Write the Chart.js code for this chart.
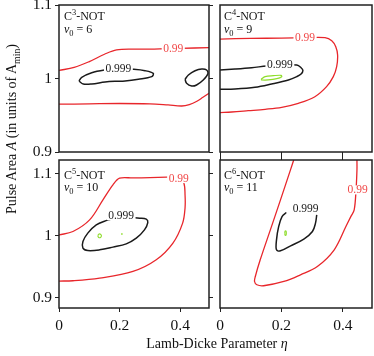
<!DOCTYPE html>
<html>
<head>
<meta charset="utf-8">
<script src="https://cdn.jsdelivr.net/npm/chart.js@4.4.1/dist/chart.umd.min.js"></script>
<style>
body{margin:0;background:#fff;width:374px;height:356px;position:relative;overflow:hidden;font-family:"Liberation Serif",serif;color:#111}
canvas{position:absolute;left:0;top:0}
.plab{position:absolute;font-size:12px;white-space:nowrap}
.plab sup,.plab sub{font-size:70%;line-height:0}
.title{position:absolute;font-size:14px;line-height:16px;height:16px;text-align:center;white-space:nowrap}
.title sub{font-size:70%;line-height:0}
</style>
</head>
<body>
<canvas id="c3" width="374" height="356"></canvas>
<canvas id="c4" width="374" height="356"></canvas>
<canvas id="c5" width="374" height="356"></canvas>
<canvas id="c6" width="374" height="356"></canvas>

<div class="plab" style="left:64px;top:9.9px;line-height:13.6px">C<sup>3</sup>-NOT<br><i>ν</i><sub>0</sub> = 6</div>
<div class="plab" style="left:224px;top:9.9px;line-height:13.6px">C<sup>4</sup>-NOT<br><i>ν</i><sub>0</sub> = 9</div>
<div class="plab" style="left:64px;top:170px;line-height:11.7px">C<sup>5</sup>-NOT<br><i>ν</i><sub>0</sub> = 10</div>
<div class="plab" style="left:224px;top:170px;line-height:11.7px">C<sup>6</sup>-NOT<br><i>ν</i><sub>0</sub> = 11</div>

<div class="title" style="left:-118px;top:121px;width:260px;transform:rotate(-90deg)">Pulse Area <i>A</i> (in units of A<sub>min</sub>)</div>
<div class="title" style="left:67px;top:335.6px;width:300px">Lamb-Dicke Parameter <i>η</i></div>

<script>
// axis ticks
var xTicks = [0, 0.2, 0.4];
var yTicks = [0.9, 1, 1.1];

// C3-NOT, v0 = 6 //////////////////////////////////////////////
var c3Red99Upper = [[0,1.011],[0.05,1.015],[0.1,1.023],[0.15,1.033],[0.19,1.039],[0.25,1.040],[0.3,1.040],[0.35,1.0405],[0.4,1.041],[0.495,1.042]];
var c3Red99Lower = [[0,0.9650],[0.1,0.9655],[0.2,0.9660],[0.3,0.9655],[0.36,0.9640],[0.405,0.9626],[0.43,0.9645],[0.455,0.9690],[0.475,0.9745],[0.495,0.980]];
var c3Blk999Left = [[0.066,0.9966],[0.075,1.0016],[0.108,1.0079],[0.152,1.0116],[0.196,1.0134],[0.245,1.0125],[0.284,1.0106],[0.311,1.0070],[0.306,1.0025],[0.262,0.9989],[0.218,0.9966],[0.185,0.9962],[0.152,0.9952],[0.108,0.9925],[0.080,0.9925],[0.066,0.9966]];
var c3Blk999Right = [[0.416,0.9989],[0.427,1.0048],[0.449,1.0106],[0.471,1.0129],[0.487,1.0116],[0.491,1.0061],[0.476,0.9980],[0.454,0.9912],[0.438,0.9898],[0.421,0.9935],[0.416,0.9989]];
var c3Lab99 = [0.377, 1.0405];
var c3Lab999 = [0.196, 1.0139];

// C4-NOT, v0 = 9 //////////////////////////////////////////////
var c4Red99 = [[0,1.0537],[0.1,1.0545],[0.2,1.055],[0.28,1.0555],[0.342,1.0555],[0.364,1.0514],[0.377,1.0433],[0.383,1.032],[0.380,1.0161],[0.369,1.0025],[0.347,0.9889],[0.309,0.9752],[0.255,0.9662],[0.201,0.9608],[0.147,0.9581],[0.092,0.9562],[0.038,0.9544],[0,0.9535]];
var c4Blk999 = [[0,1.0116],[0.049,1.0129],[0.103,1.0147],[0.152,1.0170],[0.2,1.0184],[0.250,1.0184],[0.264,1.0147],[0.270,1.0110],[0.264,1.0061],[0.250,1.0025],[0.223,0.9980],[0.168,0.9925],[0.114,0.9880],[0.049,0.9857],[0,0.9853]];
var c4Green = [[0.134,0.9989],[0.147,1.0025],[0.174,1.0038],[0.199,1.0043],[0.201,1.0025],[0.185,0.9998],[0.157,0.9980],[0.136,0.9980],[0.134,0.9989]];
var c4Lab99 = [0.277, 1.056];
var c4Lab999 = [0.195, 1.0193];

// C5-NOT, v0 = 10 /////////////////////////////////////////////
var c5Red99 = [[0,1.001],[0.046,1.0065],[0.101,1.0253],[0.145,1.0576],[0.178,1.0818],[0.200,1.0926],[0.244,1.093],[0.300,1.0936],[0.355,1.0942],[0.395,1.0945],[0.412,1.085],[0.416,1.065],[0.416,1.045],[0.408,1.020],[0.376,0.9877],[0.321,0.9608],[0.244,0.942],[0.134,0.9313],[0.046,0.927],[0,0.9265]];
var c5Blk999 = [[0.161,1.0253],[0.123,1.0173],[0.095,1.0039],[0.079,0.9903],[0.079,0.9797],[0.095,0.9758],[0.134,0.9769],[0.178,0.9813],[0.222,0.9866],[0.255,0.9958],[0.282,1.0092],[0.293,1.021],[0.288,1.0264],[0.266,1.028],[0.205,1.030],[0.161,1.0253]];
var c5Green1 = [[0.128,0.9995],[0.131,1.0022],[0.137,1.0022],[0.140,0.9995],[0.137,0.9968],[0.131,0.9968],[0.128,0.9995]];
var c5Green2 = [[0.205,1.0027],[0.210,1.0027]];
var c5Lab99 = [0.395, 1.092];
var c5Lab999 = [0.205, 1.0323];

// C6-NOT, v0 = 11 /////////////////////////////////////////////
var c6Red99 = [[0.240,1.122],[0.2295,1.106],[0.197,1.0576],[0.164,1.0092],[0.131,0.9608],[0.115,0.9339],[0.1125,0.9258],[0.120,0.9205],[0.142,0.9189],[0.208,0.9258],[0.262,0.9366],[0.317,0.950],[0.372,0.977],[0.410,1.0145],[0.426,1.0306],[0.437,1.0415],[0.443,1.0737],[0.446,1.106],[0.446,1.122]];
var c6Blk999 = [[0.216,1.0371],[0.202,1.0306],[0.191,1.0145],[0.184,0.9931],[0.184,0.9769],[0.197,0.9753],[0.230,0.9834],[0.273,0.9942],[0.301,1.0065],[0.311,1.020],[0.315,1.0334]];
var c6Green = [[0.211,1.004],[0.212,1.0075],[0.215,1.0075],[0.216,1.004],[0.215,1.0005],[0.212,1.0005],[0.211,1.004]];
var c6Lab99 = [0.448, 1.0737];
var c6Lab999 = [0.279, 1.0442];

var RED = '#e8262b', RED_TXT = '#f04848', BLK = '#1a1a1a', GRN = '#8edd2a';
var FONT = 'Liberation Serif';

function pts(a) {
	return a.map(function (p) { return { x: p[0], y: p[1] }; });
}

//frame round the plot area
var framePlugin = {
	id: 'frame',
	afterDraw: function (c) {
		var a = c.chartArea, ctx = c.ctx;
		ctx.save();
		ctx.strokeStyle = '#222';
		ctx.lineWidth = 1.5;
		ctx.strokeRect(a.left, a.top, a.right - a.left, a.bottom - a.top);
		ctx.restore();
	}
};

//contour level labels, with a white box so the line breaks under them
var labelPlugin = {
	id: 'clabels',
	afterDatasetsDraw: function (c, args, o) {
		var ctx = c.ctx;
		(o.items || []).forEach(function (it) {
			var px = c.scales.x.getPixelForValue(it.at[0]);
			var py = c.scales.y.getPixelForValue(it.at[1]);
			ctx.save();
			ctx.font = '11.5px "' + FONT + '"';
			var w = ctx.measureText(it.text).width;
			ctx.fillStyle = '#fff';
			ctx.fillRect(px - w / 2 - 1.5, py - 4.5, w + 3, 9);
			ctx.fillStyle = it.color;
			ctx.textAlign = 'center';
			ctx.textBaseline = 'middle';
			ctx.fillText(it.text, px, py + 0.5);
			ctx.restore();
		});
	}
};

function setTicks(vals) {
	return function (s) { s.ticks = vals.map(function (v) { return { value: v }; }); };
}

function axis(pos, min, max, vals, show, labels, size) {
	var horiz = (pos === 'bottom' || pos === 'top');
	return {
		type: 'linear',
		position: pos,
		min: min,
		max: max,
		display: show,
		afterBuildTicks: setTicks(vals),
		afterFit: function (s) {
			if (horiz) s.height = size; else s.width = size;
			s.paddingLeft = 0; s.paddingRight = 0; s.paddingTop = 0; s.paddingBottom = 0;
		},
		grid: { drawOnChartArea: false, drawTicks: true, tickLength: 4, color: '#222', lineWidth: 1 },
		border: { display: false },
		ticks: {
			display: labels,
			padding: horiz ? 5 : 3,
			color: '#111',
			font: { family: FONT, size: 15.5 },
			callback: function (v) { return String(v); }
		}
	};
}

function makePanel(p) {
	var L = p.rect[0], T = p.rect[1], R = p.rect[2], B = p.rect[3];
	// sizes of the axis boxes: big enough that the labels are not clipped
	var yW = p.yAxis ? 30 : 0, y2W = p.yAxis ? 5 : 0;
	var xH = p.xAxis ? (p.xLabels ? 28 : 5) : 0, x2H = p.xTop ? 5 : 0;
	var scales = {
		x: axis('bottom', 0, 0.495, xTicks, p.xAxis, p.xLabels, xH),
		y: axis('left', p.yMin, p.yMax, yTicks, p.yAxis, true, yW)
	};
	if (p.yAxis) scales.y2 = axis('right', p.yMin, p.yMax, yTicks, true, false, y2W);
	if (p.xTop) scales.x2 = axis('top', 0, 0.495, xTicks, true, false, x2H);

	new Chart(document.getElementById(p.id), {
		type: 'scatter',
		data: {
			datasets: p.lines.map(function (l) {
				return {
					data: pts(l.data),
					borderColor: l.color,
					borderWidth: l.width,
					showLine: true,
					pointRadius: 0,
					tension: 0.35,
					fill: false
				};
			})
		},
		options: {
			responsive: false,
			animation: false,
			devicePixelRatio: 1,
			layout: { padding: { left: L - yW, right: 374 - R - y2W, top: T - x2H, bottom: 356 - B - xH } },
			plugins: {
				legend: { display: false },
				tooltip: { enabled: false },
				clabels: { items: p.labels }
			},
			scales: scales
		},
		plugins: [framePlugin, labelPlugin]
	});
}

makePanel({
	id: 'c3', rect: [59, 5, 209, 152], yMin: 0.9, yMax: 1.1,
	yAxis: true, xAxis: false, xLabels: false, xTop: false,
	lines: [
		{ data: c3Red99Upper, color: RED, width: 1.3 },
		{ data: c3Red99Lower, color: RED, width: 1.3 },
		{ data: c3Blk999Left, color: BLK, width: 1.5 },
		{ data: c3Blk999Right, color: BLK, width: 1.5 }
	],
	labels: [{ text: '0.99', at: c3Lab99, color: RED_TXT }, { text: '0.999', at: c3Lab999, color: BLK }]
});

makePanel({
	id: 'c4', rect: [220, 5, 372, 152], yMin: 0.9, yMax: 1.1,
	yAxis: false, xAxis: true, xLabels: false, xTop: false,
	lines: [
		{ data: c4Red99, color: RED, width: 1.3 },
		{ data: c4Blk999, color: BLK, width: 1.5 },
		{ data: c4Green, color: GRN, width: 1.2 }
	],
	labels: [{ text: '0.99', at: c4Lab99, color: RED_TXT }, { text: '0.999', at: c4Lab999, color: BLK }]
});

makePanel({
	id: 'c5', rect: [59, 160, 209, 308], yMin: 0.883, yMax: 1.122,
	yAxis: true, xAxis: true, xLabels: true, xTop: false,
	lines: [
		{ data: c5Red99, color: RED, width: 1.3 },
		{ data: c5Blk999, color: BLK, width: 1.5 },
		{ data: c5Green1, color: GRN, width: 1.1 },
		{ data: c5Green2, color: GRN, width: 1.5 }
	],
	labels: [{ text: '0.99', at: c5Lab99, color: RED_TXT }, { text: '0.999', at: c5Lab999, color: BLK }]
});

makePanel({
	id: 'c6', rect: [220, 160, 372, 308], yMin: 0.883, yMax: 1.122,
	yAxis: false, xAxis: true, xLabels: true, xTop: true,
	lines: [
		{ data: c6Red99, color: RED, width: 1.3 },
		{ data: c6Blk999, color: BLK, width: 1.5 },
		{ data: c6Green, color: GRN, width: 1.1 }
	],
	labels: [{ text: '0.99', at: c6Lab99, color: RED_TXT }, { text: '0.999', at: c6Lab999, color: BLK }]
});
</script>
</body>
</html>
